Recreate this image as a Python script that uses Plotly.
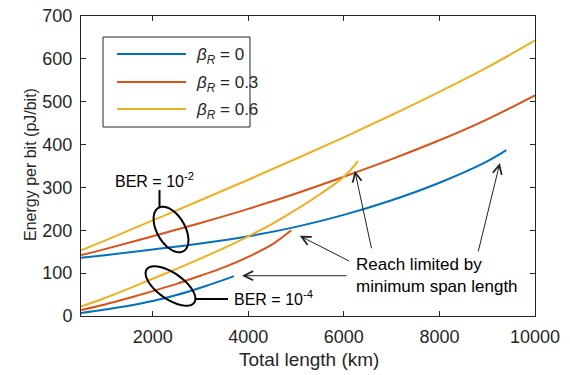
import math
import plotly.graph_objects as go

# ---------------- data ----------------
# BER = 1e-2 group (upper curves)
x_hi = [500, 1000, 2000, 3000, 4000, 5000, 6000, 7000, 8000, 9000, 10000]
x_hi_b0 = [500, 1000, 2000, 3000, 4000, 5000, 6000, 7000, 8000, 9000, 9400]
y_hi_b0 = [136, 142, 155, 169, 186, 208, 236, 270, 311, 361, 387]
y_hi_b03 = [142, 156, 186, 217, 250, 286, 325, 366, 410, 459, 515]
y_hi_b06 = [153, 176, 223, 270, 318, 367, 417, 469, 523, 580, 643]

# BER = 1e-4 group (lower curves)
x_lo_b0 = [500, 1000, 1500, 2000, 2500, 3000, 3500, 3700]
y_lo_b0 = [7, 15, 24, 35, 49, 66, 85, 93]
x_lo_b03 = [500, 1000, 1500, 2000, 2500, 3000, 3500, 4000, 4500, 4900]
y_lo_b03 = [14, 27, 42, 58, 75, 94, 114, 138, 167, 200]
x_lo_b06 = [500, 1000, 1500, 2000, 2500, 3000, 3500, 4000, 4500, 5000, 5500, 6000, 6300]
y_lo_b06 = [22, 42, 64, 87, 110, 134, 159, 186, 215, 248, 284, 325, 362]

legend_labels = ["<i>β</i><sub><i>R</i></sub> = 0",
                 "<i>β</i><sub><i>R</i></sub> = 0.3",
                 "<i>β</i><sub><i>R</i></sub> = 0.6"]
colors = ["#0072BD", "#D95319", "#EDB120"]

x_ticks = [2000, 4000, 6000, 8000, 10000]
x_tick_text = ["2000", "4000", "6000", "8000", "10000"]
y_ticks = [0, 100, 200, 300, 400, 500, 600, 700]
x_title = "Total length (km)"
y_title = "Energy per bit (pJ/bit)"

# ---------------- geometry helpers (pixel -> paper) ----------------
L, R, T, B = 81, 535, 16, 316
W, H = R - L, B - T


def pp(px, py):
    return (px - L) / W, (B - py) / H


def ellipse_path(cx, cy, a, b, theta_deg, n=72):
    th = math.radians(theta_deg)
    pts = []
    for i in range(n):
        t = 2 * math.pi * i / n
        x = cx + a * math.cos(t) * math.cos(th) - b * math.sin(t) * math.sin(th)
        y = cy + a * math.cos(t) * math.sin(th) + b * math.sin(t) * math.cos(th)
        pts.append(pp(x, y))
    d = "M" + " L".join(f"{x:.5f},{y:.5f}" for x, y in pts) + " Z"
    return d


fig = go.Figure()

series = [
    (x_hi_b0, y_hi_b0, 0), (x_hi, y_hi_b03, 1), (x_hi, y_hi_b06, 2),
    (x_lo_b0, y_lo_b0, 0), (x_lo_b03, y_lo_b03, 1), (x_lo_b06, y_lo_b06, 2),
]
for xs, ys, ci in series:
    fig.add_trace(go.Scatter(x=xs, y=ys, mode="lines",
                             line=dict(color=colors[ci], width=2, shape="spline", smoothing=1.0),
                             showlegend=False, hoverinfo="skip"))

shapes = []
annotations = []

# legend box (manual)
bx0, by0 = pp(103, 127)
bx1, by1 = pp(250, 37)
shapes.append(dict(type="rect", xref="paper", yref="paper", x0=bx0, y0=by0, x1=bx1, y1=by1,
                   line=dict(color="#262626", width=1), fillcolor="white", layer="above"))
for i, py in enumerate([54, 82, 109]):
    lx0, ly = pp(117, py)
    lx1, _ = pp(186, py)
    shapes.append(dict(type="line", xref="paper", yref="paper", x0=lx0, y0=ly, x1=lx1, y1=ly,
                       line=dict(color=colors[i], width=2), layer="above"))
    tx, ty = pp(194, py + 2)
    annotations.append(dict(xref="paper", yref="paper", x=tx, y=ty, text=legend_labels[i],
                            showarrow=False, xanchor="left", yanchor="middle",
                            font=dict(size=17, color="#262626")))

# ellipses and connectors
shapes.append(dict(type="path", xref="paper", yref="paper",
                   path=ellipse_path(171, 229.5, 25, 14, 60),
                   line=dict(color="black", width=2)))
shapes.append(dict(type="path", xref="paper", yref="paper",
                   path=ellipse_path(170.5, 286, 29, 13, 35),
                   line=dict(color="black", width=2)))
sx0, sy0 = pp(159.5, 190)
sx1, sy1 = pp(159.5, 208)
shapes.append(dict(type="line", xref="paper", yref="paper", x0=sx0, y0=sy0, x1=sx1, y1=sy1,
                   line=dict(color="black", width=2)))
hx0, hy0 = pp(196, 299)
hx1, hy1 = pp(228, 299)
shapes.append(dict(type="line", xref="paper", yref="paper", x0=hx0, y0=hy0, x1=hx1, y1=hy1,
                   line=dict(color="black", width=2)))

# text labels
tx, ty = pp(154, 180)
annotations.append(dict(xref="paper", yref="paper", x=tx, y=ty, text="BER = 10<sup>-2</sup>",
                        showarrow=False, xanchor="center", yanchor="middle",
                        font=dict(size=16, color="black")))
tx, ty = pp(232, 298)
annotations.append(dict(xref="paper", yref="paper", x=tx, y=ty, text="BER = 10<sup>-4</sup>",
                        showarrow=False, xanchor="left", yanchor="middle",
                        font=dict(size=16, color="black")))
tx, ty = pp(354, 275)
annotations.append(dict(xref="paper", yref="paper", x=tx, y=ty,
                        text="Reach limited by<br>minimum span length",
                        showarrow=False, xanchor="left", yanchor="middle", align="left",
                        font=dict(size=17, color="black")))

# axis titles as annotations (exact placement)
tx, ty = pp(309, 359)
annotations.append(dict(xref="paper", yref="paper", x=tx, y=ty, text=x_title,
                        showarrow=False, xanchor="center", yanchor="middle",
                        font=dict(size=19, color="#262626")))
tx, ty = pp(30, 165)
annotations.append(dict(xref="paper", yref="paper", x=tx, y=ty, text=y_title, textangle=-90,
                        showarrow=False, xanchor="center", yanchor="middle",
                        font=dict(size=16, color="#262626")))

# arrows (head in data coords, tail offset in pixels)
arrows = [
    (5077, 187, 51, 26),
    (6229, 339, 17, 79),
    (9265, 357, -22, 90),
    (3869, 94, 106, 0),
]
for hx, hy, ax, ay in arrows:
    annotations.append(dict(x=hx, y=hy, xref="x", yref="y", ax=ax, ay=ay, text="",
                            showarrow=True, arrowhead=5, arrowsize=1.8, arrowwidth=1,
                            arrowcolor="#222222", standoff=0))

axis_common = dict(showline=True, mirror="ticks", linecolor="#262626", linewidth=1,
                   ticks="inside", ticklen=5, tickcolor="#262626", tickwidth=1,
                   showgrid=False, zeroline=False, automargin=False,
                   tickfont=dict(size=18, color="#262626"))

fig.update_layout(
    width=570, height=375,
    margin=dict(l=L, r=570 - R, t=T, b=375 - B),
    paper_bgcolor="white", plot_bgcolor="white",
    font=dict(family="Liberation Sans, Arial, sans-serif", color="#262626"),
    xaxis=dict(range=[500, 10000], tickvals=x_ticks, ticktext=x_tick_text,
               ticklabelstandoff=4, **axis_common),
    yaxis=dict(range=[0, 700], tickvals=y_ticks,
               ticklabelstandoff=4, **axis_common),
    shapes=shapes,
    annotations=annotations,
    showlegend=False,
)

fig.write_html("out.html")
